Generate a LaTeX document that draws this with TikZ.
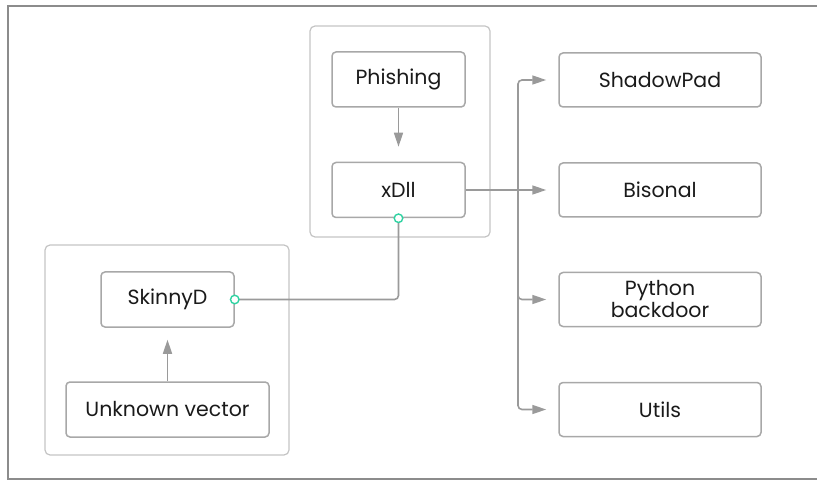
\documentclass[tikz,border=0pt]{standalone}
\usepackage{fontspec}
\setmainfont{Poppins}
\usetikzlibrary{arrows.meta}
\definecolor{boxgray}{HTML}{A8A8A8}
\definecolor{linegray}{HTML}{9A9A9A}
\definecolor{groupgray}{HTML}{C4C4C4}
\definecolor{framegray}{HTML}{8C8C8C}
\definecolor{txt}{HTML}{1A1A1A}
\definecolor{dotgreen}{HTML}{2FD3A2}
\tikzset{
  box/.style={draw=boxgray, line width=1.5pt, rounded corners=4pt, fill=white,
    minimum width=133pt, minimum height=55pt, text=txt, font=\fontsize{20.5}{22}\selectfont,
    align=center, inner sep=0pt},
  group/.style={draw=groupgray, line width=1.2pt, rounded corners=5pt},
  conn/.style={draw=linegray, line width=1.6pt, rounded corners=4pt},
  arr/.style={conn, -{Triangle[length=14pt,width=9pt]}, shorten >=12pt},
  port/.style={circle, draw=dotgreen, fill=white, line width=1.4pt, minimum size=8.5pt, inner sep=0pt},
}
\begin{document}
\begin{tikzpicture}[x=1pt,y=-1pt]
\useasboundingbox (0,0) rectangle (817,481);
\draw[framegray, line width=1.2pt] (830,6) -- (8,6) -- (8,479) -- (830,479);
% groups
\draw[group] (310,26) rectangle (490,237);
\draw[group] (45,245) rectangle (289,455);
% nodes
\node[box] (phish) at (398.5,79.5) {Phishing};
\node[box] (xdll) at (398.5,190) {xDll};
\node[box] (skinny) at (167.5,299.5) {SkinnyD};
\node[box, minimum width=203pt] (unk) at (167.5,409.5) {Unknown vector};
\node[box, minimum width=202pt, minimum height=54pt] (shadow) at (660,80) {ShadowPad};
\node[box, minimum width=202pt, minimum height=54pt] (bison) at (660,190) {Bisonal};
\node[box, minimum width=202pt, minimum height=54pt] (python) at (660,299.5) {Python\\backdoor};
\node[box, minimum width=202pt, minimum height=54pt] (utils) at (660,409.5) {Utils};
% connectors
\draw[arr, shorten >=15pt] (phish.south) -- (xdll.north);
\draw[arr] (unk.north) -- (skinny.south);
\coordinate (j) at (518,190);
\draw[arr] (xdll.east) -- (bison.west);
\draw[arr] (j) |- (shadow.west);
\draw[arr] (j) |- (python.west);
\draw[arr] (j) |- (utils.west);
\draw[conn] (skinny.east) -| (xdll.south);
\node[port] (p1) at (xdll.south) {};
\node[port] (p2) at (skinny.east) {};
\end{tikzpicture}
\end{document}
